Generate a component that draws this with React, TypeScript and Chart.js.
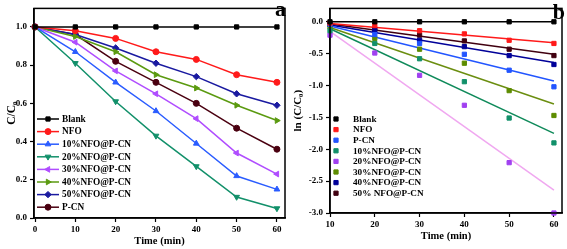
import React, { useEffect, useRef } from 'react';
import { Chart, registerables } from 'chart.js';
import { drawPoint } from 'chart.js/helpers';

Chart.register(...registerables);

const FONT = '"Liberation Serif", "Times New Roman", serif';

// ---------- Panel a data ----------
const timeA = [0, 10, 20, 30, 40, 50, 60];
const labelsA = ['Blank', 'NFO', '10%NFO@P-CN', '20%NFO@P-CN', '30%NFO@P-CN', '40%NFO@P-CN', '50%NFO@P-CN', 'P-CN'];
const blankA = [1.0, 1.0, 1.0, 1.0, 1.0, 1.0, 1.0];
const nfoA = [1.0, 0.98, 0.94, 0.87, 0.83, 0.75, 0.71];
const nfo10A = [1.0, 0.87, 0.71, 0.56, 0.39, 0.22, 0.15];
const nfo20A = [1.0, 0.81, 0.61, 0.43, 0.27, 0.11, 0.05];
const nfo30A = [1.0, 0.92, 0.77, 0.65, 0.52, 0.34, 0.23];
const nfo40A = [1.0, 0.95, 0.87, 0.75, 0.68, 0.59, 0.51];
const nfo50A = [1.0, 0.96, 0.89, 0.81, 0.74, 0.65, 0.59];
const pcnA = [1.0, 0.96, 0.82, 0.71, 0.60, 0.47, 0.36];

// ---------- Panel b data ----------
const timeB = [10, 20, 30, 40, 50, 60];
const labelsB = ['Blank', 'NFO', 'P-CN', '10%NFO@P-CN', '20%NFO@P-CN', '30%NFO@P-CN', '40%NFO@P-CN', '50% NFO@P-CN'];
const blankB = [0, 0, 0, 0, 0, 0];
const nfoB = [-0.02, -0.06, -0.14, -0.19, -0.29, -0.34];
const pcnB = [-0.04, -0.2, -0.34, -0.51, -0.76, -1.02];
const nfo10B = [-0.14, -0.34, -0.58, -0.94, -1.51, -1.9];
const nfo20B = [-0.21, -0.49, -0.84, -1.31, -2.21, -3.0];
const nfo30B = [-0.08, -0.26, -0.43, -0.65, -1.08, -1.47];
const nfo40B = [-0.05, -0.14, -0.29, -0.39, -0.53, -0.67];
const nfo50B = [-0.04, -0.12, -0.21, -0.3, -0.43, -0.53];

// fitted line ends (at t = 10 and t = 60)
const fitX = [10, 60];
const fitNfoB = [-0.025, -0.33];
const fitPcnB = [-0.065, -0.93];
const fit10B = [-0.11, -1.75];
const fit20B = [-0.15, -2.64];
const fit30B = [-0.09, -1.29];
const fit40B = [-0.05, -0.64];
const fit50B = [-0.035, -0.51];

const colorsA = ['#000000', '#ff1a1a', '#2a5cff', '#12906a', '#b04dff', '#5b9a10', '#1a1aa0', '#4a0010'];
const stylesA = ['rect', 'circle', 'triangle', 'triangle', 'triangle', 'triangle', 'rectRot', 'circle'];
const rotA = [0, 0, 0, 180, 270, 90, 0, 0];

const colorsB = ['#000000', '#ff1a1a', '#2255ff', '#12906a', '#a040f0', '#5d8c00', '#000099', '#400010'];
const lineColorsB = ['#000000', '#ff1a1a', '#2255ff', '#0f8a5a', '#f0a8f0', '#6b8e10', '#000099', '#400010'];

const pts = (xs: number[], ys: number[]) => xs.map((x, i) => ({ x, y: ys[i] }));

const insideLegend = {
  id: 'insideLegend',
  afterDatasetsDraw(chart: any, _args: any, opts: any) {
    if (!opts || !opts.display) return;
    const ctx = chart.ctx;
    ctx.save();
    ctx.font = `bold ${opts.fontSize}px ${FONT}`;
    ctx.textBaseline = 'middle';
    ctx.textAlign = 'left';
    let i = 0;
    chart.data.datasets.forEach((ds: any) => {
      if (ds.legendHidden) return;
      const y = opts.y + i * opts.spacing;
      const color = ds.borderColor;
      if (opts.lineLen > 0) {
        ctx.strokeStyle = color;
        ctx.lineWidth = 1.5;
        ctx.beginPath();
        ctx.moveTo(opts.x, y);
        ctx.lineTo(opts.x + opts.lineLen, y);
        ctx.stroke();
      }
      ctx.fillStyle = ds.pointBackgroundColor || color;
      ctx.strokeStyle = ds.pointBorderColor || color;
      ctx.lineWidth = 1;
      drawPoint(ctx, { pointStyle: ds.pointStyle, rotation: ds.pointRotation || 0, radius: ds.pointRadius, borderWidth: 1 } as any, opts.x + opts.markerX, y);
      ctx.fillStyle = '#000';
      ctx.fillText(ds.label, opts.textX, y + 0.5);
      i++;
    });
    ctx.restore();
  },
};

const framePlugin = {
  id: 'frame',
  afterDraw(chart: any, _args: any, opts: any) {
    const { left, top, right, bottom } = chart.chartArea;
    const ctx = chart.ctx;
    ctx.save();
    ctx.strokeStyle = '#000';
    ctx.lineWidth = 1.5;
    ctx.strokeRect(left, top, right - left, bottom - top);
    ctx.fillStyle = '#000';
    ctx.font = `bold ${opts.size}px ${FONT}`;
    ctx.textAlign = 'right';
    ctx.textBaseline = 'alphabetic';
    ctx.fillText(opts.text, opts.x, opts.y);
    ctx.restore();
  },
};

function axisCommon(extra: any) {
  return {
    type: 'linear',
    grid: { display: true, drawOnChartArea: false, drawTicks: true, tickLength: 4, color: '#000', tickColor: '#000', tickWidth: 1.2 },
    border: { display: true, color: '#000', width: 1.5 },
    ...extra,
  };
}

function makeA(canvas: HTMLCanvasElement) {
  const series = [blankA, nfoA, nfo10A, nfo20A, nfo30A, nfo40A, nfo50A, pcnA];
  const datasets = series.map((s, i) => ({
    label: labelsA[i],
    data: pts(timeA, s),
    showLine: true,
    borderColor: colorsA[i],
    backgroundColor: colorsA[i],
    pointBackgroundColor: colorsA[i],
    pointBorderColor: colorsA[i],
    borderWidth: 1.5,
    pointStyle: stylesA[i],
    pointRotation: rotA[i],
    pointRadius: stylesA[i] === 'triangle' ? 3.3 : stylesA[i] === 'rectRot' ? 3.2 : 3,
    pointBorderWidth: 1,
    clip: false,
  }));
  return new Chart(canvas, {
    type: 'scatter',
    data: { datasets } as any,
    plugins: [insideLegend, framePlugin],
    options: {
      animation: false,
      responsive: false,
      events: [],
      layout: { padding: { top: 3, right: 2, left: 0, bottom: 0 } },
      plugins: {
        legend: { display: false },
        tooltip: { enabled: false },
        insideLegend: { display: true, x: 37, lineLen: 22, markerX: 11, textX: 62, y: 119, spacing: 12.6, fontSize: 9.3 },
        frame: { text: 'a', size: 22, x: 286, y: 16 },
      } as any,
      scales: {
        x: axisCommon({
          min: -0.25,
          max: 62,
          afterFit: (s: any) => { s.height = 31; },
          ticks: { stepSize: 10, includeBounds: false, color: '#000', padding: 2, font: { family: FONT, weight: 'bold', size: 9 }, callback: (v: any) => String(v) },
          title: { display: true, text: 'Time (min)', color: '#000', padding: { top: 0, bottom: 1 }, font: { family: FONT, weight: 'bold', size: 10.5 } },
        }),
        y: axisCommon({
          min: 0,
          max: 1.097,
          afterFit: (s: any) => { s.width = 34; },
          ticks: { stepSize: 0.2, includeBounds: false, color: '#000', padding: 3, font: { family: FONT, weight: 'bold', size: 9 }, callback: (v: any) => Number(v).toFixed(1) },
          title: { display: true, text: 'C/C₀', color: '#000', padding: { top: 5, bottom: 0 }, font: { family: FONT, weight: 'bold', size: 11.5 } },
        }),
      } as any,
    },
  });
}

function makeB(canvas: HTMLCanvasElement) {
  const series = [blankB, nfoB, pcnB, nfo10B, nfo20B, nfo30B, nfo40B, nfo50B];
  const fits = [null, fitNfoB, fitPcnB, fit10B, fit20B, fit30B, fit40B, fit50B];
  const pointSets = series.map((s, i) => ({
    label: labelsB[i],
    data: pts(timeB, s),
    showLine: i === 0,
    borderColor: colorsB[i],
    backgroundColor: colorsB[i],
    pointBackgroundColor: colorsB[i],
    pointBorderColor: colorsB[i],
    borderWidth: 1.5,
    pointStyle: 'rect',
    pointRadius: 3,
    pointBorderWidth: 1,
    clip: false,
  }));
  const lineSets: any[] = [];
  fits.forEach((f, i) => {
    if (!f) return;
    lineSets.push({
      label: labelsB[i] + ' fit',
      legendHidden: true,
      data: pts(fitX, f),
      showLine: true,
      borderColor: lineColorsB[i],
      backgroundColor: lineColorsB[i],
      borderWidth: 1.5,
      pointRadius: 0,
      clip: false,
    });
  });
  return new Chart(canvas, {
    type: 'scatter',
    data: { datasets: [...pointSets, ...lineSets] } as any,
    plugins: [insideLegend, framePlugin],
    options: {
      animation: false,
      responsive: false,
      events: [],
      layout: { padding: { top: 3, right: 4, left: 0, bottom: 0 } },
      plugins: {
        legend: { display: false },
        tooltip: { enabled: false },
        insideLegend: { display: true, x: 46, lineLen: 0, markerX: 0, textX: 63, y: 119, spacing: 10.6, fontSize: 9.2 },
        frame: { text: 'b', size: 22, x: 275, y: 19 },
      } as any,
      scales: {
        x: axisCommon({
          min: 10,
          max: 61.8,
          afterFit: (s: any) => { s.height = 36; },
          ticks: { stepSize: 10, includeBounds: false, color: '#000', padding: 2, font: { family: FONT, weight: 'bold', size: 9 }, callback: (v: any) => String(v) },
          title: { display: true, text: 'Time (min)', color: '#000', padding: { top: 0, bottom: 6 }, font: { family: FONT, weight: 'bold', size: 10.5 } },
        }),
        y: axisCommon({
          min: -3,
          max: 0.21,
          afterFit: (s: any) => { s.width = 40; },
          ticks: { stepSize: 0.5, includeBounds: false, color: '#000', padding: 3, font: { family: FONT, weight: 'bold', size: 9 }, callback: (v: any) => Number(v).toFixed(1) },
          title: { display: true, text: 'ln (C/C₀)', color: '#000', padding: { top: 2, bottom: 0 }, font: { family: FONT, weight: 'bold', size: 11 } },
        }),
      } as any,
    },
  });
}

export default function App() {
  const refA = useRef<HTMLCanvasElement>(null);
  const refB = useRef<HTMLCanvasElement>(null);
  useEffect(() => {
    const a = makeA(refA.current!);
    const b = makeB(refB.current!);
    return () => {
      a.destroy();
      b.destroy();
    };
  }, []);
  return (
    <div style={{ position: 'absolute', left: 0, top: 0, width: 567, height: 249, background: '#fff' }}>
      <canvas ref={refA} width={290} height={249} style={{ position: 'absolute', left: 0, top: 0, width: 290, height: 249 }} />
      <canvas ref={refB} width={277} height={249} style={{ position: 'absolute', left: 290, top: 0, width: 277, height: 249 }} />
    </div>
  );
}
